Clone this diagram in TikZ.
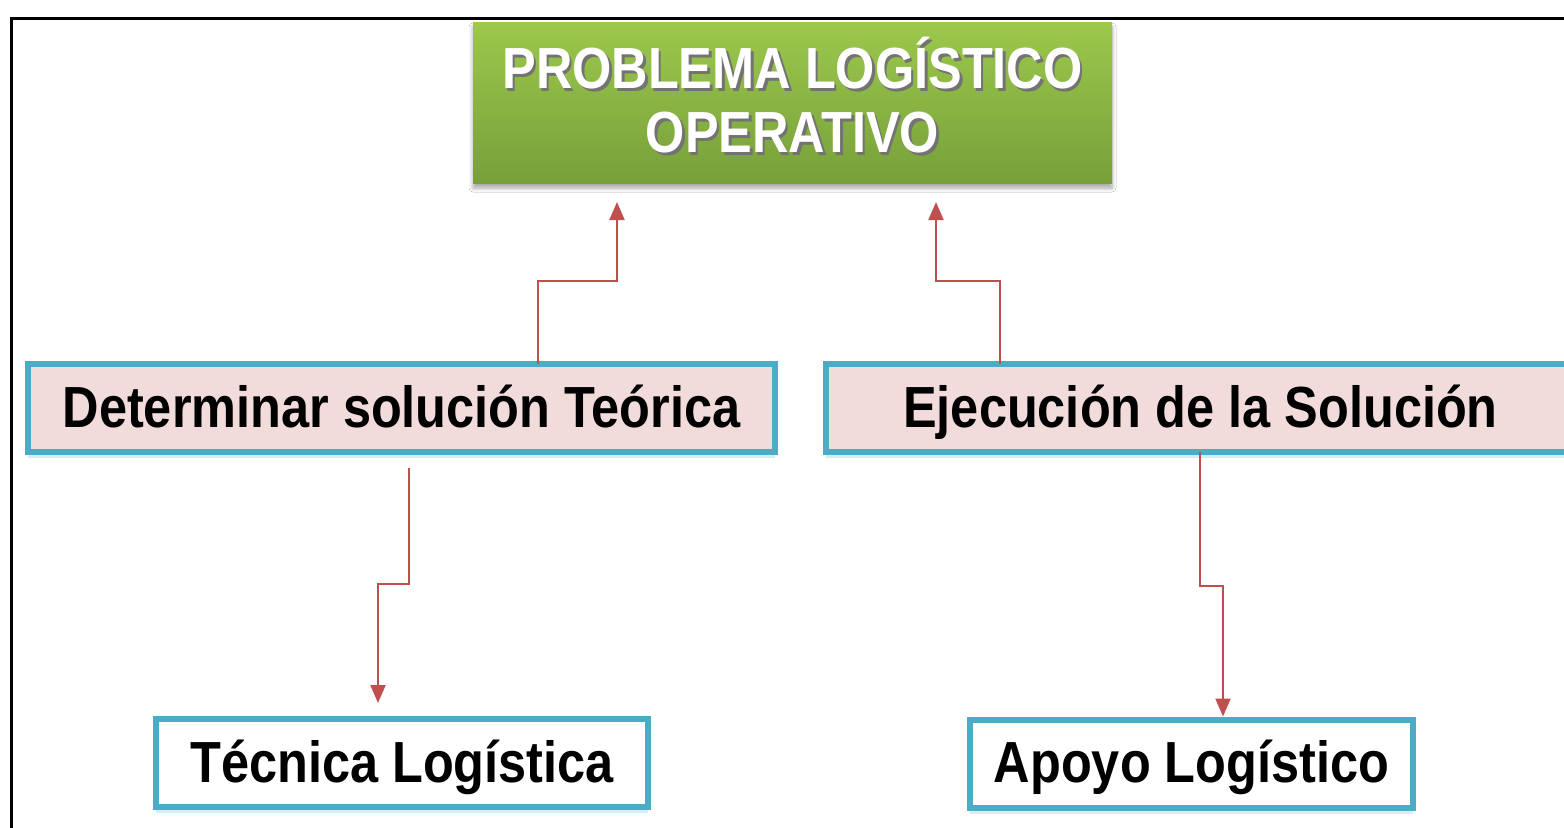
\documentclass[tikz,border=0pt]{standalone}
\usepackage{fontspec}
\newfontfamily\lab{Liberation Sans}[FakeStretch=0.87]
\usetikzlibrary{arrows.meta,shadows,shadows.blur}
\definecolor{boxblue}{HTML}{4BACC6}
\definecolor{pinkfill}{HTML}{F2DCDB}
\definecolor{arrred}{HTML}{C0504D}
\definecolor{gtop}{HTML}{9CC84C}
\definecolor{gbot}{HTML}{77A03A}
\newcommand{\shtxt}[1]{\makebox[0pt][l]{\hspace{1.3pt}\raisebox{-1.3pt}{\color{black!55}#1}}#1}
\begin{document}
\begin{tikzpicture}[x=0.5pt,y=-0.5pt,
  txt/.style={font=\lab\bfseries\fontsize{29pt}{32pt}\selectfont},
  box/.style={txt,draw=boxblue,line width=3pt,inner sep=0pt,outer sep=0pt,
    text height=25pt,text depth=6pt,
    drop shadow={shadow xshift=0pt,shadow yshift=-3pt,fill=boxblue!22,opacity=1}},
  pinkbox/.style={box,fill=pinkfill,minimum height=44pt},
  whitebox/.style={box,fill=white,minimum height=44pt},
  greenbox/.style={txt,text=white,align=center,inner sep=0pt,outer sep=0pt,
    top color=gtop,bottom color=gbot,minimum width=319.5pt,minimum height=80.5pt,
    blur shadow={shadow xshift=0pt,shadow yshift=-2.5pt,shadow blur steps=6,shadow opacity=35,shadow blur radius=2pt}},
  arr/.style={draw=arrred,line width=1pt,-{Triangle[width=7.5pt,length=9pt]}},
  frame/.style={draw=black,line width=1.5pt}
]
\useasboundingbox (0,0) rectangle (1564,827);
\clip (0,0) rectangle (1564,827);
\fill[white] (0,0) rectangle (1564,827);
\draw[frame] (1575,18) -- (11,18) -- (11,840);

\node[greenbox] (prob) at (792.5,102.5) {\shtxt{PROBLEMA LOGÍSTICO}\\\shtxt{OPERATIVO}\rule[-7.5pt]{0pt}{0pt}};
\node[pinkbox,minimum width=373.5pt] (det) at (401.5,408) {Determinar solución Teórica};
\node[pinkbox,minimum width=374.5pt] (eje) at (1200.5,408) {Ejecución de la Solución};
\node[whitebox,minimum width=246pt] (tec) at (402,763) {Técnica Logística};
\node[whitebox,minimum width=221.5pt] (apo) at (1191.5,763.5) {Apoyo Logístico};

\coordinate (b1) at (538,281);
\coordinate (b2) at (617,281);
\coordinate (b3) at (1000,281);
\coordinate (b4) at (936,281);
\coordinate (b5) at (409,584);
\coordinate (b6) at (378,584);
\coordinate (b7) at (1200,586);
\coordinate (b8) at (1223,586);

\draw[arr,shorten >=9.5pt] (det.north -| b1) -- (b1) -- (b2) -- (prob.south -| b2);
\draw[arr,shorten >=9.5pt] (eje.north -| b3) -- (b3) -- (b4) -- (prob.south -| b4);
\draw[arr,shorten <=8pt,shorten >=8pt] (det.south -| b5) -- (b5) -- (b6) -- (tec.north -| b6);
\draw[arr,shorten >=1.5pt] (eje.south -| b7) -- (b7) -- (b8) -- (apo.north -| b8);
\end{tikzpicture}
\end{document}
